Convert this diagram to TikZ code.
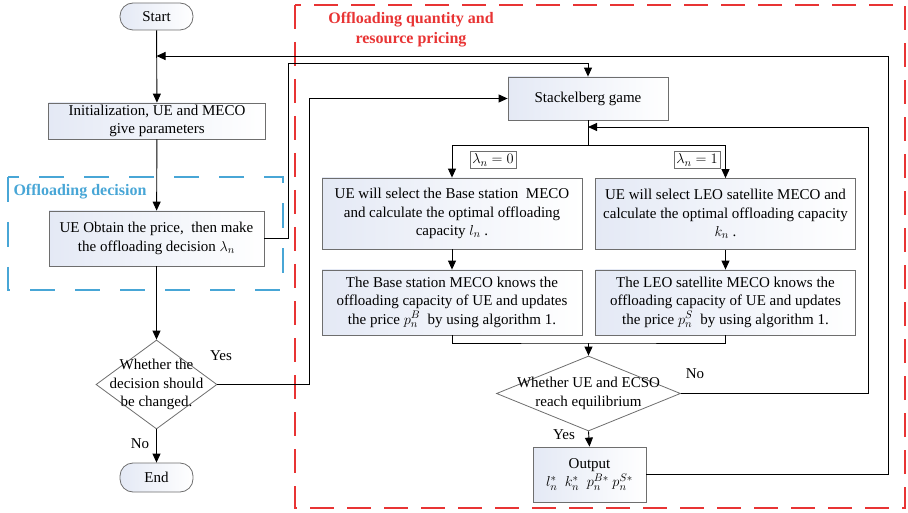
\documentclass[tikz,border=0pt]{standalone}
\usepackage{fontspec}
\setmainfont{Liberation Serif}
\usetikzlibrary{arrows.meta,positioning,shapes.geometric}
\definecolor{framered}{RGB}{232,52,52}
\definecolor{frameblue}{RGB}{72,166,214}
\definecolor{boxfill}{RGB}{228,233,245}
\definecolor{boxline}{RGB}{110,110,110}

\begin{document}
\begin{tikzpicture}[
    x=1pt,y=-1pt,
    txt/.style={font=\fontsize{15}{18.3}\selectfont},
    box/.style={draw=boxline,line width=0.8pt,left color=boxfill,right color=white,
                align=center,inner sep=2pt,txt},
    term/.style={box,rounded corners=13pt,minimum width=73pt,minimum height=27pt},
    dec/.style={diamond,draw=boxline,line width=0.8pt,fill=white,inner sep=0pt},
    tag/.style={draw=boxline,line width=0.6pt,fill=white,inner sep=2.5pt,txt},
    lbl/.style={txt},
    arr/.style={-{Triangle[length=9pt,width=8pt]},line width=0.9pt},
    ln/.style={line width=0.9pt}
  ]
  \useasboundingbox (0,0) rectangle (908,513);

  % frames
  \draw[framered,line width=2.8pt,dash pattern=on 24pt off 13pt]
        (295,5) rectangle (905,508);
  \draw[frameblue,line width=2.8pt,dash pattern=on 25pt off 20pt]
        (8,177) rectangle (283,290);
  \node[framered,font=\bfseries\fontsize{16}{20}\selectfont,align=center] (qtitle)
        at (411,30) {Offloading quantity and\\resource pricing};
  \node[frameblue,font=\bfseries\fontsize{16}{20}\selectfont,anchor=west] (dtitle)
        at (10,192) {Offloading decision};

  % left column
  \node[term] (start) at (156.5,16.5) {Start};
  \node[box,minimum width=217pt,minimum height=36pt] (init) at (157,121)
        {Initialization, UE and MECO\\give parameters};
  \node[box,minimum width=215pt,minimum height=55pt] (ue) at (156.5,238.5)
        {UE Obtain the price,~ then make\\the offloading decision $\lambda_n$};
  \node[dec,minimum width=121pt,minimum height=89pt,
        label={[txt,align=center]center:{Whether the\\decision should\\be changed.}}]
        (chk) at (156.5,384.5) {};
  \node[term,minimum height=29pt] (end) at (156.5,477.5) {End};

  % game part
  \node[box,minimum width=160pt,minimum height=43pt] (stack) at (588,98.5)
        {Stackelberg game};
  \node[box,minimum width=260pt,minimum height=71pt] (bsel) at (452,213.5)
        {UE will select the Base station~ MECO\\and calculate the optimal offloading\\capacity $l_n$ .};
  \node[box,minimum width=260pt,minimum height=71pt] (ssel) at (725.5,214)
        {UE will select LEO satellite MECO and\\calculate the optimal offloading capacity\\$k_n$ .};
  \node[box,minimum width=260pt,minimum height=65pt] (bprice) at (452,302.5)
        {The Base station MECO knows the\\offloading capacity of UE and updates\\the price $p_n^B$\ \ by using algorithm 1.};
  \node[box,minimum width=260pt,minimum height=65pt] (sprice) at (725.5,302.5)
        {The LEO satellite MECO knows the\\offloading capacity of UE and updates\\the price $p_n^S$\ \ by using algorithm 1.};
  \node[dec,minimum width=184pt,minimum height=75pt,
        label={[txt,align=center]center:{Whether UE and ECSO\\reach equilibrium}}]
        (eq) at (588.5,393.5) {};
  \node[box,minimum width=113pt,minimum height=55pt] (out) at (589.5,474.5)
        {Output\\$l_n^*\ \ k_n^*\ \ p_n^{B*}\ p_n^{S*}$};

  \node[tag] (tag0) at (493,160) {$\lambda_n=0$};
  \node[tag] (tag1) at (697,160) {$\lambda_n=1$};

  % turning points
  \coordinate (fbjoin) at (156.5,56);
  \coordinate (fbcorner) at (888,56);
  \coordinate (upcorner) at (288,63);
  \coordinate (yescorner) at (309,98.5);
  \coordinate (split) at (588,145);
  \coordinate (merge) at (588.5,343);
  \coordinate (nocorner) at (868,127);
  \coordinate (nojoin) at (588,127);

  % connectors
  \draw[arr] (start) -- (init);
  \draw[arr] (init) -- (ue);
  \draw[arr] (ue) -- (chk);
  \draw[arr] (chk) -- (end);
  \draw[arr] (ue.east) -| (upcorner) -| (stack.north);
  \draw[arr] (chk.east) -| (yescorner) -- (stack.west);
  \draw[ln] (stack.south) -- (split);
  \draw[arr] (split) -| (bsel.north);
  \draw[arr] (split) -| (ssel.north);
  \draw[arr] (bsel) -- (bprice);
  \draw[arr] (ssel) -- (sprice);
  \draw[ln] (bprice.south) |- (merge) -| (sprice.south);
  \draw[arr] (merge) -- (eq.north);
  \draw[arr] (eq.east) -| (nocorner) -- (nojoin);
  \draw[arr] (eq.south) -- (out.north);
  \draw[arr] (out.east) -| (fbcorner) -- (fbjoin);

  % branch labels
  \node[lbl] (yes1) at (221,356) {Yes};
  \node[lbl] (no1) at (140,444) {No};
  \node[lbl] (no2) at (695,374) {No};
  \node[lbl] (yes2) at (564,435) {Yes};
\end{tikzpicture}
\end{document}
